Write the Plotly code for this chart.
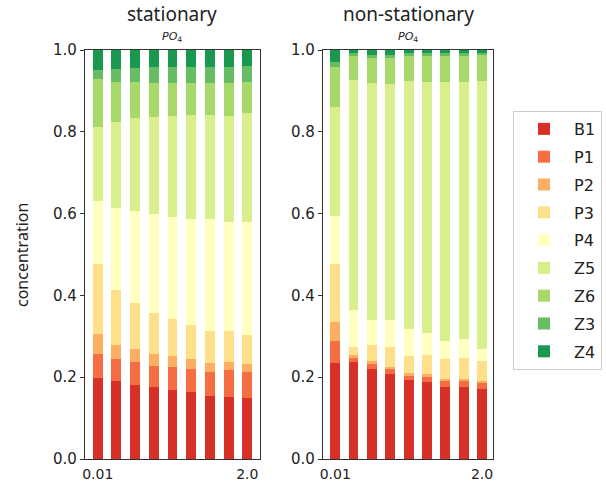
import plotly.graph_objects as go

categories = [0, 1, 2, 3, 4, 5, 6, 7, 8]
tick_labels = ["0.01", "2.0"]
series_names = ["B1", "P1", "P2", "P3", "P4", "Z5", "Z6", "Z3", "Z4"]
colors = ["#d73027", "#f46d43", "#fdae61", "#fee08b", "#ffffbf",
          "#d9ef8b", "#a6d96a", "#66bd63", "#1a9850"]

# cumulative tops, stationary
stat_B1 = [0.197, 0.191, 0.182, 0.175, 0.169, 0.163, 0.155, 0.152, 0.150]
stat_P1 = [0.257, 0.244, 0.236, 0.227, 0.226, 0.220, 0.213, 0.217, 0.213]
stat_P2 = [0.305, 0.279, 0.268, 0.256, 0.252, 0.244, 0.234, 0.238, 0.232]
stat_P3 = [0.478, 0.413, 0.382, 0.358, 0.343, 0.328, 0.313, 0.313, 0.303]
stat_P4 = [0.630, 0.613, 0.606, 0.599, 0.592, 0.587, 0.587, 0.579, 0.579]
stat_Z5 = [0.811, 0.823, 0.833, 0.835, 0.839, 0.841, 0.841, 0.839, 0.845]
stat_Z6 = [0.928, 0.921, 0.921, 0.920, 0.920, 0.919, 0.919, 0.919, 0.921]
stat_Z3 = [0.952, 0.954, 0.957, 0.958, 0.958, 0.959, 0.959, 0.959, 0.961]
stat_Z4 = [1.0] * 9

# cumulative tops, non-stationary
nons_B1 = [0.234, 0.236, 0.219, 0.209, 0.193, 0.188, 0.177, 0.175, 0.172]
nons_P1 = [0.289, 0.247, 0.233, 0.220, 0.203, 0.200, 0.190, 0.190, 0.186]
nons_P2 = [0.335, 0.254, 0.239, 0.225, 0.211, 0.207, 0.196, 0.196, 0.191]
nons_P3 = [0.476, 0.275, 0.279, 0.274, 0.251, 0.255, 0.245, 0.248, 0.240]
nons_P4 = [0.593, 0.364, 0.340, 0.340, 0.317, 0.309, 0.289, 0.293, 0.270]
nons_Z5 = [0.861, 0.926, 0.920, 0.917, 0.923, 0.922, 0.921, 0.921, 0.925]
nons_Z6 = [0.958, 0.986, 0.981, 0.981, 0.986, 0.986, 0.986, 0.986, 0.987]
nons_Z3 = [0.971, 0.992, 0.989, 0.989, 0.992, 0.992, 0.992, 0.992, 0.993]
nons_Z4 = [1.0] * 9

stat_cum = [stat_B1, stat_P1, stat_P2, stat_P3, stat_P4, stat_Z5, stat_Z6, stat_Z3, stat_Z4]
nons_cum = [nons_B1, nons_P1, nons_P2, nons_P3, nons_P4, nons_Z5, nons_Z6, nons_Z3, nons_Z4]


def diffs(cum):
    out = []
    prev = [0.0] * len(cum[0])
    for row in cum:
        out.append([round(a - b, 4) for a, b in zip(row, prev)])
        prev = row
    return out


stat_vals = diffs(stat_cum)
nons_vals = diffs(nons_cum)

fig = go.Figure()
for i, name in enumerate(series_names):
    fig.add_trace(go.Bar(x=categories, y=stat_vals[i], name=name,
                         marker=dict(color=colors[i], line=dict(width=0)),
                         width=0.53, xaxis="x", yaxis="y",
                         legendgroup=name, showlegend=True))
    fig.add_trace(go.Bar(x=categories, y=nons_vals[i], name=name,
                         marker=dict(color=colors[i], line=dict(width=0)),
                         width=0.53, xaxis="x2", yaxis="y2",
                         legendgroup=name, showlegend=False))

tick_font = dict(family="DejaVu Sans", size=15, color="#222")
xtick_font = dict(family="DejaVu Sans", size=14, color="#222")
ax_common = dict(showline=True, linecolor="#333", linewidth=1.2, mirror=True,
                 showgrid=False, zeroline=False,
                 tickcolor="#333", automargin=False)
y0, y1 = 1 - 459 / 481, 1 - 50 / 481
yticks = [0, 0.2, 0.4, 0.6, 0.8, 1.0]
yticktext = ["0.0", "0.2", "0.4", "0.6", "0.8", "1.0"]

fig.update_layout(
    width=606, height=481,
    margin=dict(l=0, r=0, t=0, b=0, autoexpand=False),
    paper_bgcolor="white", plot_bgcolor="white",
    barmode="stack",
    xaxis=dict(domain=[85 / 606, 260 / 606], range=[-0.68, 8.68], ticks="",
               ticklabelstandoff=2, tickfont=xtick_font,
               tickvals=[categories[0], categories[-1]], ticktext=tick_labels, **ax_common),
    yaxis=dict(domain=[y0, y1], range=[0, 1], tickvals=yticks, ticktext=yticktext,
               ticks="outside", ticklen=4, tickfont=tick_font, **ax_common),
    xaxis2=dict(domain=[323 / 606, 493 / 606], range=[-0.67, 8.6], anchor="y2", ticks="",
                ticklabelstandoff=2, tickfont=xtick_font,
                tickvals=[categories[0], categories[-1]], ticktext=tick_labels, **ax_common),
    yaxis2=dict(domain=[y0, y1], range=[0, 1], anchor="x2", tickvals=yticks,
                ticktext=yticktext, ticks="outside", ticklen=4, tickfont=tick_font, **ax_common),
    legend=dict(x=513 / 606, y=1 - 111 / 481, xanchor="left", yanchor="top",
                traceorder="grouped", tracegroupgap=4, itemwidth=50,
                bordercolor="#ccc", borderwidth=1, bgcolor="white",
                font=dict(family="DejaVu Sans", size=16, color="#222")),
    showlegend=True,
    annotations=[
        dict(text="concentration", x=22 / 606, y=1 - 255 / 481, xref="paper", yref="paper",
             textangle=-90, xanchor="center", yanchor="middle", showarrow=False,
             font=dict(family="Noto Sans", size=16, color="#222")),
        dict(text="stationary", x=(85 + 260) / 2 / 606, y=1 - 14 / 481, xref="paper", yref="paper",
             xanchor="center", yanchor="middle", showarrow=False,
             font=dict(family="Noto Sans", size=19, color="#222")),
        dict(text="<i>PO</i><sub>4</sub>", x=(85 + 260) / 2 / 606, y=1 - 37 / 481, xref="paper", yref="paper",
             xanchor="center", yanchor="middle", showarrow=False,
             font=dict(family="DejaVu Sans", size=11, color="#222")),
        dict(text="non-stationary", x=(323 + 493) / 2 / 606, y=1 - 14 / 481, xref="paper", yref="paper",
             xanchor="center", yanchor="middle", showarrow=False,
             font=dict(family="Noto Sans", size=19, color="#222")),
        dict(text="<i>PO</i><sub>4</sub>", x=(323 + 493) / 2 / 606, y=1 - 37 / 481, xref="paper", yref="paper",
             xanchor="center", yanchor="middle", showarrow=False,
             font=dict(family="DejaVu Sans", size=11, color="#222")),
    ],
)

fig.write_html("out.html")
